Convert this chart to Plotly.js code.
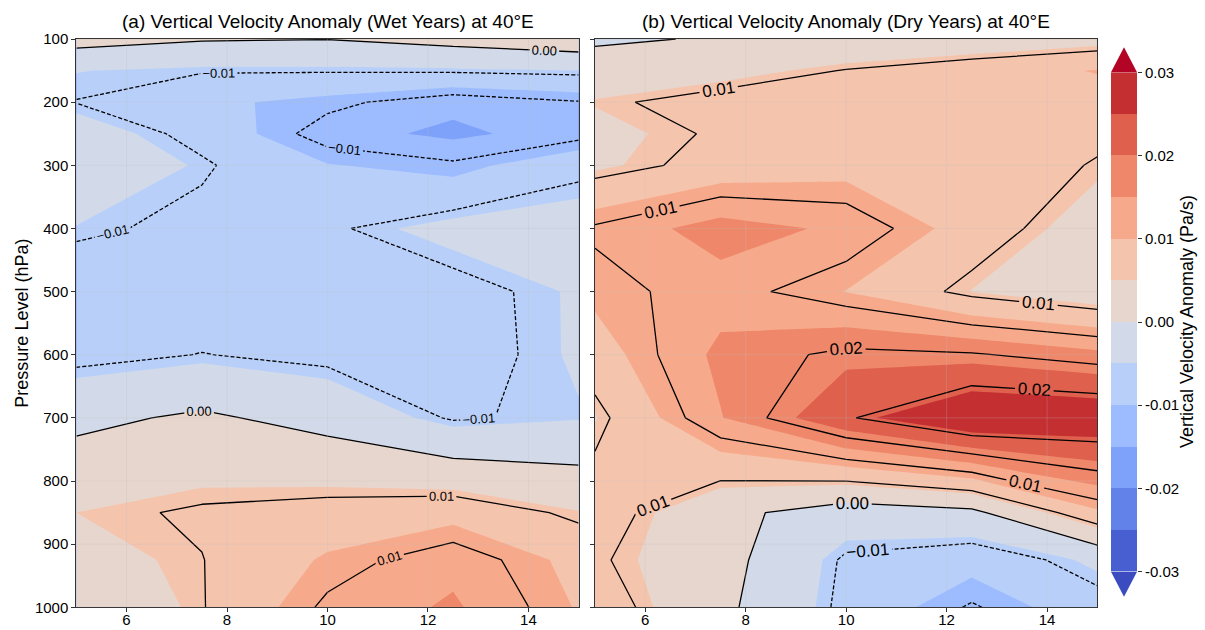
<!DOCTYPE html>
<html>
<head>
<meta charset="utf-8">
<script src="https://cdn.plot.ly/plotly-3.0.1.min.js"></script>
<style>
html, body { margin: 0; padding: 0; background: #ffffff; }
#chart { width: 1205px; height: 630px; }
</style>
</head>
<body>
<div id="chart"></div>
<script>
// ---------------- data ----------------
const latitude = [5, 7.5, 10, 12.5, 15];
const pressureLevels = [100, 150, 200, 250, 300, 400, 500, 600, 700, 850, 925, 1000];

// (a) wet years: rows = pressure levels, columns = latitude
const wetAnomaly = [
  [ 0.0020,  0.0004,  0.0001,  0.0017,  0.0035],
  [-0.0049, -0.0057, -0.0057, -0.0055, -0.0050],
  [-0.0061, -0.0092, -0.0111, -0.0140, -0.0122],
  [-0.0030, -0.0072, -0.0136, -0.0158, -0.0133],
  [-0.0010, -0.0055, -0.0098, -0.0114, -0.0070],
  [-0.0052, -0.0071, -0.0065, -0.0038, -0.0032],
  [-0.0090, -0.0085, -0.0082, -0.0073, -0.0046],
  [-0.0072, -0.0059, -0.0070, -0.0075, -0.0046],
  [-0.0012,  0.0008, -0.0018, -0.0064, -0.0052],
  [ 0.0050,  0.0065,  0.0075,  0.0086,  0.0052],
  [ 0.0034,  0.0059,  0.0105,  0.0140,  0.0088],
  [ 0.0010,  0.0058,  0.0127,  0.0155,  0.0097]
];

// (b) dry years
const dryAnomaly = [
  [-0.0009,  0.0005,  0.0010,  0.0018,  0.0035],
  [ 0.0030,  0.0035,  0.0062,  0.0084,  0.0102],
  [ 0.0052,  0.0077,  0.0075,  0.0085,  0.0085],
  [ 0.0039,  0.0065,  0.0080,  0.0085,  0.0068],
  [ 0.0043,  0.0074,  0.0085,  0.0085,  0.0057],
  [ 0.0125,  0.0166,  0.0143,  0.0082,  0.0029],
  [ 0.0109,  0.0134,  0.0099,  0.0049,  0.0021],
  [ 0.0081,  0.0159,  0.0189,  0.0184,  0.0160],
  [ 0.0048,  0.0148,  0.0235,  0.0298,  0.0290],
  [ 0.0082,  0.0015, -0.0027, -0.0012,  0.0093],
  [ 0.0066,  0.0019, -0.0066, -0.0086, -0.0042],
  [ 0.0083,  0.0012, -0.0070, -0.0124, -0.0075]
];

// filled levels and line levels
const fillStart = -0.03, fillEnd = 0.03, fillStep = 0.005;
const lineStep = 0.006;
// band colours: below -0.03, 12 bands, above 0.03
const bandColors = [
  'rgb(59,76,192)', 'rgb(71,95,208)', 'rgb(98,130,234)', 'rgb(126,161,250)',
  'rgb(156,188,255)', 'rgb(184,208,249)', 'rgb(210,218,233)', 'rgb(231,214,205)',
  'rgb(245,196,173)', 'rgb(247,170,139)', 'rgb(239,136,107)', 'rgb(222,96,77)',
  'rgb(196,47,50)', 'rgb(180,4,38)'
];
const cbTickVals = [-0.03, -0.02, -0.01, 0.00, 0.01, 0.02, 0.03];
const cbTickText = ['-0.03', '-0.02', '-0.01', '0.00', '0.01', '0.02', '0.03'];
const xTicks = [6, 8, 10, 12, 14];
const yTicks = [100, 200, 300, 400, 500, 600, 700, 800, 900, 1000];

const panelTitles = [
  '(a) Vertical Velocity Anomaly (Wet Years) at 40°E',
  '(b) Vertical Velocity Anomaly (Dry Years) at 40°E'
];
const yTitle = 'Pressure Level (hPa)';
const cbTitle = 'Vertical Velocity Anomaly (Pa/s)';

// ---------------- build ----------------
const FONT = 'Liberation Sans, Arial, Helvetica, sans-serif';
const nBands = bandColors.length;
const colorscale = bandColors.map((c, i) => [i / (nBands - 1), c]);

function fillTrace(z, xa, ya) {
  return {
    type: 'contour', x: latitude, y: pressureLevels, z: z,
    xaxis: xa, yaxis: ya, autocontour: false,
    contours: {start: fillStart, end: fillEnd, size: fillStep, coloring: 'fill', showlines: false},
    colorscale: colorscale, showscale: false,
    line: {width: 0, smoothing: 0}, hoverinfo: 'skip'
  };
}
function lineTrace(z, xa, ya, start, end, dash, fs) {
  return {
    type: 'contour', x: latitude, y: pressureLevels, z: z,
    xaxis: xa, yaxis: ya, autocontour: false,
    contours: {start: start, end: end, size: lineStep, coloring: 'none', showlines: true,
               showlabels: true, labelformat: '.2f',
               labelfont: {family: FONT, size: fs, color: '#000'}},
    line: {color: '#000', width: 1.3, dash: dash, smoothing: 0},
    showscale: false, hoverinfo: 'skip'
  };
}

// colour bar drawn as a heatmap of the band centres
const cbCenters = [];
for (let i = 0; i < Math.round((fillEnd - fillStart) / fillStep); i++) {
  cbCenters.push(fillStart + (i + 0.5) * fillStep);
}
const cbTrace = {
  type: 'heatmap', x: [0.5], y: cbCenters, z: cbCenters.map(v => [v]),
  zmin: fillStart - fillStep / 2, zmax: fillEnd + fillStep / 2,
  colorscale: colorscale, showscale: false, xaxis: 'x3', yaxis: 'y3', hoverinfo: 'skip'
};

const data = [
  fillTrace(wetAnomaly, 'x', 'y'),
  lineTrace(wetAnomaly, 'x', 'y', -0.03, -lineStep, '4px,2px', 13),
  lineTrace(wetAnomaly, 'x', 'y', 0, 0.03, 'solid', 13),
  fillTrace(dryAnomaly, 'x2', 'y2'),
  lineTrace(dryAnomaly, 'x2', 'y2', -0.03, -lineStep, '4px,2px', 17),
  lineTrace(dryAnomaly, 'x2', 'y2', 0, 0.03, 'solid', 17),
  cbTrace
];

// geometry (paper fractions)
const W = 1205, H = 630;
const yDom = [1 - 607.3 / H, 1 - 39 / H];
const xDomA = [76.3 / W, 578.7 / W];
const xDomB = [595 / W, 1097.3 / W];
const cbX = [1111 / W, 1137 / W];
const cbY = [1 - 571.7 / H, 1 - 72.3 / H];

const axBase = {
  showline: true, mirror: true, linecolor: '#333', linewidth: 1,
  ticks: 'outside', ticklen: 4, tickwidth: 1, tickcolor: '#333',
  showgrid: false, zeroline: false,
  tickfont: {family: FONT, size: 15, color: '#000'}
};

const shapes = [];
// faint grid lines over the fills
[['x', 'y'], ['x2', 'y2']].forEach(([xa, ya]) => {
  xTicks.forEach(t => shapes.push({type: 'line', xref: xa, yref: ya, x0: t, x1: t, y0: 100, y1: 1000,
    layer: 'above', line: {color: 'rgba(190,190,190,0.25)', width: 1}}));
  yTicks.forEach(t => shapes.push({type: 'line', xref: xa, yref: ya, x0: 5, x1: 15, y0: t, y1: t,
    layer: 'above', line: {color: 'rgba(190,190,190,0.25)', width: 1}}));
});
// extension triangles of the colour bar
const triH = 25 / H;
const cxMid = (cbX[0] + cbX[1]) / 2;
shapes.push({type: 'path', xref: 'paper', yref: 'paper',
  path: `M${cbX[0]},${cbY[1]} L${cbX[1]},${cbY[1]} L${cxMid},${cbY[1] + triH} Z`,
  fillcolor: bandColors[nBands - 1], line: {width: 0}});
shapes.push({type: 'path', xref: 'paper', yref: 'paper',
  path: `M${cbX[0]},${cbY[0]} L${cbX[1]},${cbY[0]} L${cxMid},${cbY[0] - triH} Z`,
  fillcolor: bandColors[0], line: {width: 0}});

const titleFont = {family: FONT, size: 19, color: '#000'};
const axTitleFont = {family: FONT, size: 18, color: '#000'};

const layout = {
  width: W, height: H,
  margin: {l: 0, r: 0, t: 0, b: 0},
  paper_bgcolor: '#fff', plot_bgcolor: '#fff',
  showlegend: false,
  font: {family: FONT, color: '#000'},
  xaxis: Object.assign({}, axBase, {domain: xDomA, range: [5, 15], tickvals: xTicks, anchor: 'y',
    ticklabelstandoff: -5}),
  yaxis: Object.assign({}, axBase, {domain: yDom, range: [1000, 100], tickvals: yTicks, anchor: 'x'}),
  xaxis2: Object.assign({}, axBase, {domain: xDomB, range: [5, 15], tickvals: xTicks, anchor: 'y2',
    ticklabelstandoff: -5}),
  yaxis2: Object.assign({}, axBase, {domain: yDom, range: [1000, 100], tickvals: yTicks,
    showticklabels: false, anchor: 'x2'}),
  xaxis3: {domain: cbX, range: [0, 1], visible: false, anchor: 'y3', fixedrange: true},
  yaxis3: {domain: cbY, range: [fillStart, fillEnd], anchor: 'x3', side: 'right',
    tickvals: cbTickVals, ticktext: cbTickText, ticks: 'outside', ticklen: 4, tickcolor: '#333',
    showline: false, showgrid: false, zeroline: false,
    tickfont: {family: FONT, size: 15, color: '#000'}},
  annotations: [
    {text: panelTitles[0], xref: 'paper', yref: 'paper', x: (xDomA[0] + xDomA[1]) / 2, y: 1 - 22 / H,
     xanchor: 'center', yanchor: 'middle', showarrow: false, font: titleFont},
    {text: panelTitles[1], xref: 'paper', yref: 'paper', x: (xDomB[0] + xDomB[1]) / 2, y: 1 - 22 / H,
     xanchor: 'center', yanchor: 'middle', showarrow: false, font: titleFont},
    {text: yTitle, xref: 'paper', yref: 'paper', x: 22.5 / W, y: (yDom[0] + yDom[1]) / 2,
     xanchor: 'center', yanchor: 'middle', textangle: -90, showarrow: false, font: axTitleFont},
    {text: cbTitle, xref: 'paper', yref: 'paper', x: 1187 / W, y: (cbY[0] + cbY[1]) / 2,
     xanchor: 'center', yanchor: 'middle', textangle: -90, showarrow: false, font: axTitleFont}
  ],
  shapes: shapes
};

Plotly.newPlot('chart', data, layout, {staticPlot: true, displayModeBar: false});
</script>
</body>
</html>
